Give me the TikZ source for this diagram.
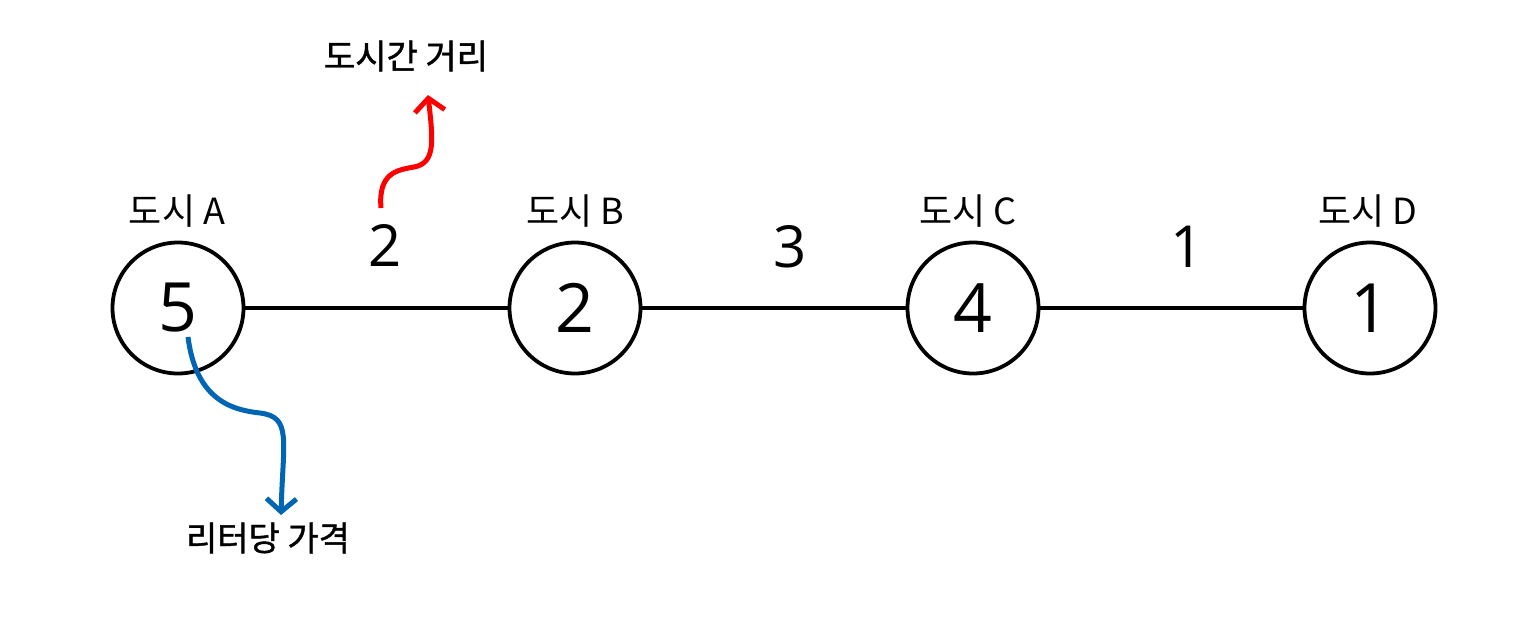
\documentclass[tikz,border=0pt]{standalone}
\usepackage{fontspec}
\setmainfont{Noto Sans CJK KR}
\newfontfamily\digitfont{Open Sans}
\newfontfamily\notefont[FakeBold=1.2]{Noto Sans CJK KR}
\usetikzlibrary{arrows.meta}
\definecolor{arrred}{HTML}{FF0000}
\definecolor{arrblue}{HTML}{0066B3}
\tikzset{
  city/.style={circle, draw=black, line width=3.8pt, minimum size=131pt, inner sep=0pt, font=\digitfont\fontsize{68}{68}\selectfont},
  citylabel/.style={font=\fontsize{36}{36}\selectfont, inner sep=0pt},
  weight/.style={font=\digitfont\fontsize{58}{58}\selectfont, inner sep=0pt},
  road/.style={line width=3.8pt},
  note/.style={font=\notefont\fontsize{34}{34}\selectfont, inner sep=0pt},
  pointer/.style={line width=5pt, -{Straight Barb[length=13pt,width=30pt]}},
}
\begin{document}
\begin{tikzpicture}[x=1pt,y=-1pt]
\useasboundingbox (0,0) rectangle (1531,624);
\node[city] (A) at (178,308) {5};
\node[city] (B) at (575,308) {2};
\node[city] (C) at (973,308) {4};
\node[city] (D) at (1370,308) {1};
\node[citylabel] (la) at (177,211) {도시 A};
\node[citylabel] (lb) at (575,211) {도시 B};
\node[citylabel] (lc) at (968,211) {도시 C};
\node[citylabel] (ld) at (1368,211) {도시 D};
\draw[road] (A) -- (B);
\draw[road] (B) -- (C);
\draw[road] (C) -- (D);
\node[weight] (wab) at (385,245) {2};
\node[weight] (wbc) at (790,247) {3};
\node[weight] (wcd) at (1187,247) {1};
\node[note] (dist) at (406,56) {도시간 거리};
\node[note] (price) at (268,538) {리터당 가격};
\coordinate (rs) at (381,208);
\coordinate (rt) at (428,95);
\coordinate (bs) at (188,337);
\coordinate (bt) at (281,515);
\draw[pointer, arrred] (rs) .. controls (378,172) and (398,170) .. (414,167) .. controls (436,163) and (433,140) .. (rt);
\draw[pointer, arrblue] (bs) .. controls (196,400) and (232,410) .. (260,413) .. controls (292,417) and (283,440) .. (bt);
\end{tikzpicture}
\end{document}
